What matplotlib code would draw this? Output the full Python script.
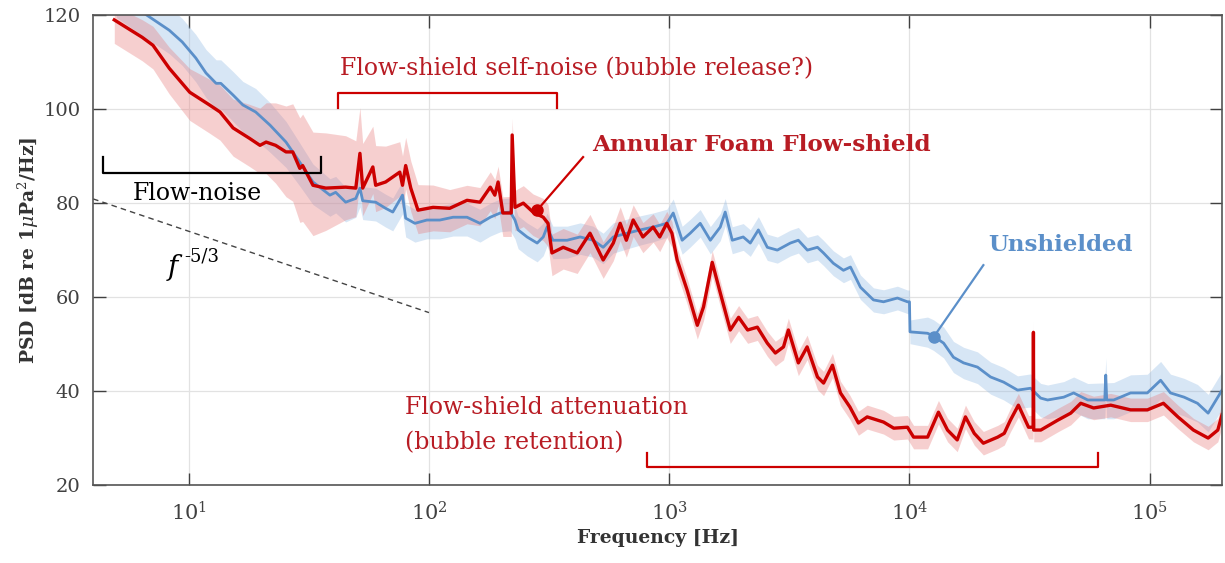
import numpy as np
import matplotlib
matplotlib.use('Agg')
import matplotlib.pyplot as plt
from matplotlib.ticker import NullLocator

plt.rcParams['font.family'] = ['DejaVu Serif']
plt.rcParams['mathtext.fontset'] = 'dejavuserif'

# Annular foam flow-shield (red)
red_f = [4.9, 6.4, 7.1, 8.3, 10.1, 12.2, 13.5, 15.3, 17.9, 19.8, 21.0, 23.0, 25.4, 27.1, 29.0, 29.8,
         32.9, 37.2, 45.0, 49.6, 51.6, 53.0, 58.4, 60.0, 66.0, 75.6, 77.6, 80.0, 84.0, 90, 104, 122,
         144, 163, 180, 188, 194, 203, 220, 222, 228, 247, 271, 299, 313, 325, 362, 414, 468, 531,
         585, 625, 663, 708, 777, 857, 913, 977, 1026, 1079, 1187, 1309, 1389, 1510, 1631, 1795,
         1945, 2120, 2327, 2560, 2765, 2990, 3133, 3447, 3750, 4140, 4390, 4780, 5160, 5650, 6130,
         6670, 7800, 8600, 9810, 10400, 11900, 13200, 14400, 15800, 17100, 18600, 20300, 23300,
         24800, 26300, 28400, 31300, 32700, 32800, 32900, 35200, 41400, 46900, 51600, 58400,
         68800, 83200, 97800, 114000, 131000, 152000, 175000, 192000, 200000]
red_db = [119, 115.3, 113.6, 108.7, 103.6, 100.9, 99.4, 96, 93.8, 92.3, 93, 92.3, 90.9, 90.9, 87.4, 88,
          83.8, 83.2, 83.4, 83.2, 90.6, 83.2, 87.7, 83.8, 84.5, 86.6, 83.8, 88, 83.2, 78.5, 79.1, 78.9,
          80.6, 80.2, 83.4, 81.7, 84.5, 77.9, 77.9, 94.5, 79.1, 80, 78.1, 77, 75.7, 69.4, 70.6, 69.4, 73.6, 67.9,
          71.5, 75.7, 72.1, 76.4, 72.8, 74.9, 72.8, 75.7, 73.6, 67.9, 61.5, 54, 57.9, 67.4, 60.9, 53,
          55.7, 53, 53.6, 50.2, 48.1, 49.4, 53, 46, 49.4, 43, 41.7, 45.5, 39.6, 36.6, 33.2,
          34.5, 33.4, 32.1, 32.3, 30.2, 30.2, 35.5, 31.7, 29.6, 34.5, 31, 28.9, 30.2,
          31, 33.8, 37, 32.3, 32.3, 52.5, 31.7, 31.7, 33.8, 35.3, 37.4, 36.4,
          37, 36, 36, 37.4, 34.5, 31.7, 30, 31.7, 35]

# Unshielded (blue)
blue_f = [5.0, 6.7, 8.3, 9.4, 10.7, 11.8, 13.0, 13.6, 15.3, 16.8, 19.0, 21.8, 25.4, 29.0, 32.9, 38.7,
          40.9, 45.0, 49.6, 51.6, 53.0, 60.0, 66.0, 70.7, 77.6, 80.0, 87.4, 98, 111, 126, 144, 163,
          180, 198, 218, 228, 235, 256, 282, 299, 310, 328, 376, 426, 482, 531, 585, 668, 757, 857,
          977, 1039, 1132, 1223, 1346, 1483, 1631, 1710, 1830, 2032, 2175, 2350, 2560, 2818, 3192,
          3447, 3758, 4140, 4385, 4820, 5310, 5680, 6250, 7080, 7800, 8910, 9810, 10000, 10050,
          11890, 12590, 13870, 15240, 16790, 19190, 21750, 24660, 28180, 31910, 35160, 37580,
          43850, 48220, 55200, 60700, 65000, 65600, 66200, 70800, 83200, 97700, 111000, 122000,
          139000, 158000, 175000, 192000, 200000]
blue_db = [124.5, 120, 116.8, 114.3, 110.9, 107.7, 105.5, 105.5, 103, 100.9, 99.4, 96.6, 93, 88.7, 84.5, 81.7,
           82.3, 80.2, 81, 83.2, 80.5, 80.2, 78.9, 78.1, 81.7, 76.8, 75.7, 76.4, 76.4, 77, 77, 75.7,
           77, 77.9, 78.1, 76.4, 74.3, 72.8, 71.5, 72.8, 74.9, 72.1, 72.1, 72.8, 72.1, 70.6, 72.8, 73.6, 74.3, 74.9,
           75.7, 77.9, 72.1, 73.6, 75.7, 72.1, 74.9, 78.1, 72.1, 72.8, 71.5, 74.3, 70.6, 70, 71.5,
           72.1, 70, 70.6, 69.4, 67.2, 65.7, 66.4, 62.1, 59.4, 59, 59.8, 59, 59, 52.6,
           52.3, 51.7, 50.2, 47.2, 46, 45.1, 43, 41.9, 40.2, 40.6, 38.5, 38.1,
           38.7, 39.6, 38.1, 38.1, 38.1, 43.4, 38.1, 38.1, 39.6, 39.6, 42.3, 39.6,
           38.7, 37.4, 35.3, 38.7, 40.2]

# spread of the shaded bands (dB above / below the mean line)
red_band_f = [4.9, 7, 10, 15, 20, 30, 40, 50, 80, 150, 300, 500, 1000, 1e4, 2e5]
red_band_up = [3, 4, 5, 6, 8, 11, 12, 10, 6, 3, 4, 4, 2.5, 2.5, 2.5]
red_band_dn = [5, 5, 6, 6, 6, 12, 8, 6, 5, 5, 5, 4, 3, 2.5, 2.5]
blue_band_f = [5, 10, 20, 30, 50, 100, 300, 1000, 1e4, 1.2e4, 3e4, 1e5, 2e5]
blue_band_up = [5, 5, 5, 4, 3, 3, 3, 3, 2.5, 3.5, 3, 4, 4]
blue_band_dn = [5, 5, 6, 5, 4, 4, 4, 3, 2.5, 3, 4, 4, 4]

# f^-5/3 reference line end points
ref_f = [4.0, 100]
ref_db = [80.9, 56.7]

red_c = '#cc0000'
red_txt = '#b81c24'
blue_c = '#5b8fc9'


def band(f, band_f, up, dn, y):
    lf = np.log10(f)
    lb = np.log10(band_f)
    y = np.array(y)
    return y + np.interp(lf, lb, up), y - np.interp(lf, lb, dn)


fig = plt.figure(figsize=(12.25, 5.63), dpi=100)
ax = fig.add_axes([0.076, 0.1385, 0.9216, 0.8345])

bu, bd = band(blue_f, blue_band_f, blue_band_up, blue_band_dn, blue_db)
ax.fill_between(blue_f, bd, bu, color='#8fb8e3', alpha=0.35, lw=0)
ax.plot(blue_f, blue_db, color=blue_c, lw=2.0)

ru, rd = band(red_f, red_band_f, red_band_up, red_band_dn, red_db)
ax.fill_between(red_f, rd, ru, color='#e87878', alpha=0.35, lw=0)
ax.plot(red_f, red_db, color=red_c, lw=2.4)

ax.plot(ref_f, ref_db, color='#444444', lw=1.0, ls=(0, (4, 3)))

ax.set_xscale('log')
ax.set_xlim(4.0, 2e5)
ax.set_ylim(20, 120)
ax.set_xticks([1e1, 1e2, 1e3, 1e4, 1e5])
ax.set_yticks([20, 40, 60, 80, 100, 120])
ax.xaxis.set_minor_locator(NullLocator())
ax.grid(True, color='#e2e2e2', lw=0.9)
ax.set_axisbelow(True)
ax.tick_params(direction='in', length=9, width=1.0, top=True, right=True,
               labelsize=14, colors='#404040')
ax.tick_params(axis='x', labelsize=15, pad=12)
ax.tick_params(axis='y', pad=9)
for s in ax.spines.values():
    s.set_color('#555555')
    s.set_linewidth(1.2)

ax.set_xlabel('Frequency [Hz]', fontsize=13.5, fontweight='bold', color='#333333', labelpad=3)
ax.set_ylabel(r'PSD [dB re 1$\mu$Pa$^2$/Hz]', fontsize=13.5, fontweight='bold', color='#333333', labelpad=2)

# annotations
ax.text(42.6, 108.7, 'Flow-shield self-noise (bubble release?)', color=red_txt, fontsize=17, va='center')
ax.plot([41.7, 41.7, 341, 341], [100.2, 103.4, 103.4, 100.2], color=red_c, lw=1.6)

ax.text(10.9, 82.1, 'Flow-noise', color='black', fontsize=17, ha='center', va='center')
ax.plot([4.39, 4.39, 35.5, 35.5], [89.8, 86.4, 86.4, 89.8], color='black', lw=1.6)

ax.text(8.8, 66.4, r'$f$', color='black', fontsize=20, ha='center', va='center')
ax.text(9.6, 68.6, '-5/3', color='black', fontsize=13, ha='left', va='center')

ax.text(79.4, 36.4, 'Flow-shield attenuation', color=red_txt, fontsize=17, va='center')
ax.text(79.4, 29.1, '(bubble retention)', color=red_txt, fontsize=17, va='center')
ax.plot([809, 809, 60700, 60700], [26.8, 23.8, 23.8, 26.8], color=red_c, lw=1.6)

ax.text(477, 92.3, 'Annular Foam Flow-shield', color=red_txt, fontsize=16.7, fontweight='bold', va='center')
ax.plot([282, 438], [78.5, 89.8], color=red_c, lw=1.6)
ax.plot([282], [78.5], 'o', color=red_c, ms=8)

ax.text(21300, 71, 'Unshielded', color=blue_c, fontsize=16.5, fontweight='bold', va='center')
ax.plot([12600, 20300], [51.5, 66.8], color=blue_c, lw=1.6)
ax.plot([12600], [51.5], 'o', color=blue_c, ms=8)

fig.savefig('out.png', dpi=100)
